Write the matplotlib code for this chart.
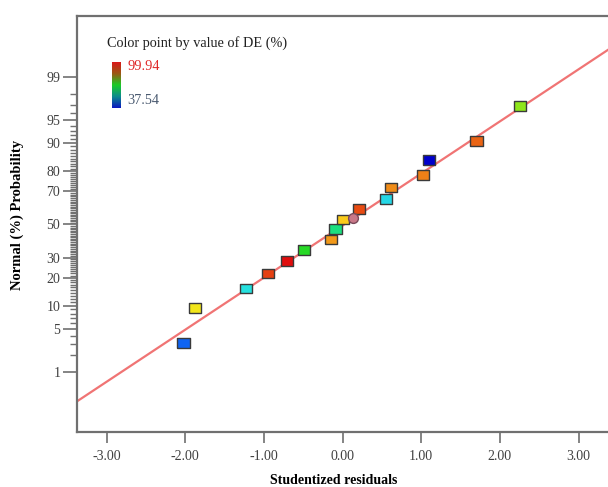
import matplotlib
matplotlib.use('Agg')
import matplotlib.pyplot as plt
import numpy as np
from matplotlib.colors import LinearSegmentedColormap
from statistics import NormalDist

# studentized residuals vs normal probability (%), colour = DE (%)
residuals = [-2.02, -1.875, -1.23, -0.945, -0.71, -0.49, -0.147, -0.088,
             0.009, 0.212, 0.551, 0.619, 1.025, 1.102, 1.704, 2.254]
probability = [3.1, 9.4, 15.6, 21.9, 28.1, 34.4, 40.6, 46.9,
               53.1, 59.4, 65.6, 71.9, 78.1, 84.4, 90.6, 96.9]
de_values = [45.0, 76.2, 55.0, 94.9, 99.94, 66.9, 86.2, 61.3,
             80.0, 93.7, 53.8, 87.5, 88.7, 37.54, 91.2, 71.2]
# highlighted run (drawn as circle)
hl_residual = [0.128]
hl_probability = [53.7]

de_min, de_max = 37.54, 99.94
line_slope, line_intercept = 0.82, -0.02

major_pct = [1, 5, 10, 20, 30, 50, 70, 80, 90, 95, 99]
minor_pct = [p for p in range(2, 99) if p not in major_pct]
x_ticks = [-3, -2, -1, 0, 1, 2, 3]

nd = NormalDist()
def probit(p):
    return np.array([nd.inv_cdf(v / 100.0) for v in np.atleast_1d(p)])

cmap = LinearSegmentedColormap.from_list('de', [
    (0.00, (0.00, 0.00, 0.80)),
    (0.12, (0.06, 0.40, 0.95)),
    (0.27, (0.15, 0.88, 0.90)),
    (0.38, (0.10, 0.88, 0.50)),
    (0.47, (0.15, 0.85, 0.15)),
    (0.54, (0.55, 0.90, 0.10)),
    (0.62, (0.95, 0.90, 0.10)),
    (0.68, (0.98, 0.80, 0.10)),
    (0.78, (0.95, 0.60, 0.10)),
    (0.86, (0.92, 0.40, 0.08)),
    (1.00, (0.88, 0.05, 0.05)),
])
# the little legend bar is drawn with darker shades
legend_cmap = LinearSegmentedColormap.from_list('de_leg', [
    (0.00, (0.05, 0.10, 0.75)),
    (0.25, (0.05, 0.55, 0.55)),
    (0.50, (0.10, 0.80, 0.15)),
    (0.75, (0.60, 0.35, 0.08)),
    (1.00, (0.85, 0.10, 0.10)),
])

plt.rcParams['font.family'] = ['Liberation Serif', 'DejaVu Serif']

W, H = 608, 487
fig = plt.figure(figsize=(W / 100, H / 100), dpi=100)
ax = fig.add_axes([77 / W, 1 - 432 / H, 1 - 77 / W, (432 - 15.7) / H])

xlim = (-3.375, 3.375)
ax.set_xlim(*xlim)
ax.set_ylim(-3.27, 3.285)

xl = np.array(xlim)
ax.plot(xl, line_intercept + line_slope * xl, color='#f07474', lw=1.6, zorder=2)

rect = [(-1.2, -0.95), (1.2, -0.95), (1.2, 0.95), (-1.2, 0.95), (-1.2, -0.95)]
ax.scatter(residuals, probit(probability), c=de_values, cmap=cmap,
           vmin=de_min, vmax=de_max, marker=rect, s=78,
           edgecolors='#3a3a3a', linewidths=1.0, zorder=3)
ax.scatter(hl_residual, probit(hl_probability), color='#c87888', marker='o',
           s=50, edgecolors='#7a4a5a', linewidths=1.0, zorder=3)

ax.set_xticks(x_ticks)
ax.set_xticklabels([f'{v:.2f}' for v in x_ticks])
ax.set_yticks(probit(major_pct))
ax.set_yticklabels([str(p) for p in major_pct])
ax.set_yticks(probit(minor_pct), minor=True)

ax.tick_params(axis='x', direction='out', length=8, width=1.2, color='#707070',
               labelsize=10, labelcolor='#404040', pad=5)
ax.tick_params(axis='y', which='major', direction='out', length=10, width=1.2,
               color='#707070', labelsize=10, labelcolor='#404040', pad=2)
ax.tick_params(axis='y', which='minor', direction='out', length=5, width=1.0,
               color='#707070')

for s in ['left', 'bottom', 'top']:
    ax.spines[s].set_color('#707070')
    ax.spines[s].set_linewidth(1.6)
ax.spines['right'].set_visible(False)

fig.text(334 / W, 1 - 481 / H, 'Studentized residuals', ha='center', va='center',
         fontsize=10, fontweight='bold')
fig.text(17 / W, 1 - 215 / H, 'Normal (%) Probability', ha='center', va='center',
         rotation=90, fontsize=10.5, fontweight='bold')

# colour legend
fig.text(107 / W, 1 - 43.5 / H, 'Color point by value of DE (%)', ha='left',
         va='center', fontsize=10.3, color='#202020')
cax = fig.add_axes([112 / W, 1 - 108 / H, 9 / W, 46 / H])
grad = np.linspace(1, 0, 100).reshape(-1, 1)
cax.imshow(grad, aspect='auto', cmap=legend_cmap, extent=[0, 1, 0, 1])
cax.set_axis_off()
fig.text(127 / W, 1 - 67 / H, f'{de_max:.2f}', ha='left', va='center',
         fontsize=10.3, color='#e02828')
fig.text(127 / W, 1 - 101 / H, f'{de_min:.2f}', ha='left', va='center',
         fontsize=10.3, color='#4a5a70')

fig.savefig('out.png', dpi=100)
